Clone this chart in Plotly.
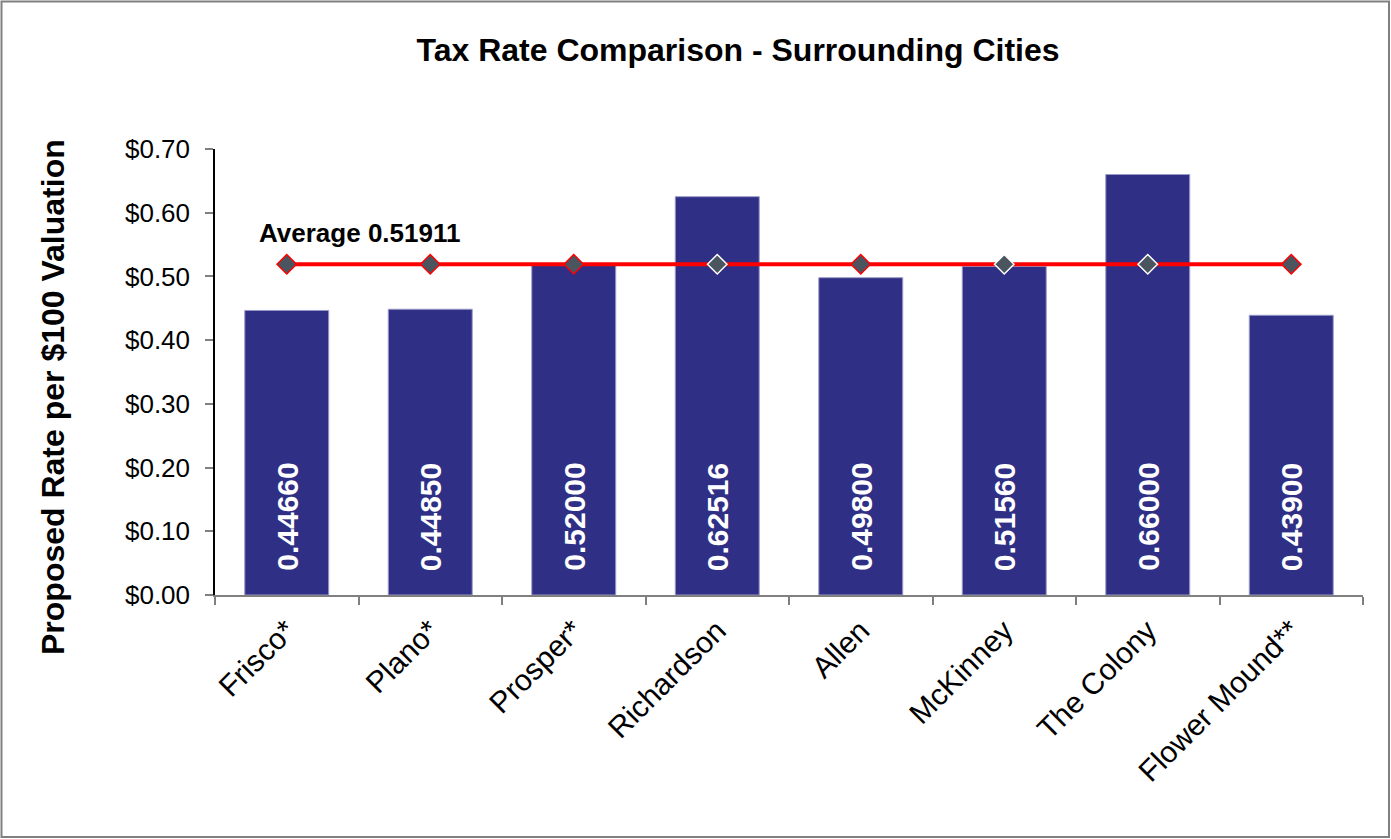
import plotly.graph_objects as go

cities = ["Frisco*", "Plano*", "Prosper*", "Richardson", "Allen", "McKinney", "The Colony", "Flower Mound**"]
rates = [0.44660, 0.44850, 0.52000, 0.62516, 0.49800, 0.51560, 0.66000, 0.43900]
average = 0.51911
avg_line = [average] * len(cities)
ytick_vals = [0.0, 0.1, 0.2, 0.3, 0.4, 0.5, 0.6, 0.7]
ytick_text = ["$0.00", "$0.10", "$0.20", "$0.30", "$0.40", "$0.50", "$0.60", "$0.70"]

marker_edge = ["#ff0000", "#ff0000", "#ff0000", "#ffffff", "#ff0000", "#ffffff", "#ffffff", "#ff0000"]

FONT = "Liberation Sans, Arial, sans-serif"
W, H = 1391, 839
ML, MR, MT, MB = 215, 28, 149, 244
pw = W - ML - MR
ph = H - MT - MB

fig = go.Figure()
fig.add_trace(go.Bar(
    x=cities, y=rates,
    marker=dict(color="#2f2f86", line=dict(color="#9a9ac8", width=1)),
    width=0.585,
    hoverinfo="skip",
))
fig.add_trace(go.Scatter(
    x=cities, y=avg_line, mode="lines+markers",
    line=dict(color="#ff0000", width=4),
    marker=dict(symbol="diamond", size=15, color="#4a5560",
                line=dict(color=marker_edge, width=1.5)),
    hoverinfo="skip",
))

for c, v in zip(cities, rates):
    fig.add_annotation(
        x=c, y=0, xref="x", yref="y", text=f"<b>{v:.5f}</b>",
        textangle=-90, showarrow=False, yanchor="bottom", xanchor="center",
        yshift=22, font=dict(family=FONT, size=30, color="white"),
    )

fig.add_annotation(
    x=cities[0], y=average, xref="x", yref="y", text="<b>Average 0.51911</b>",
    showarrow=False, xanchor="left", yanchor="bottom", xshift=-30, yshift=14,
    font=dict(family=FONT, size=26, color="black"),
)

# y-axis title placed as in the reference (centred lower than the plot area)
fig.add_annotation(
    x=(53 - ML) / pw, y=1 - (397 - MT) / ph, xref="paper", yref="paper",
    text="<b>Proposed Rate per $100 Valuation</b>", textangle=-90,
    showarrow=False, xanchor="center", yanchor="middle",
    font=dict(family=FONT, size=32, color="black"),
)

# outer chart border
fig.add_shape(
    type="rect", xref="paper", yref="paper",
    x0=(1.5 - ML) / pw, x1=(W - 2 - ML) / pw,
    y0=-(H - 2 - MT - ph) / ph, y1=(MT - 1.5) / ph + 1,
    line=dict(color="#808080", width=2), fillcolor="rgba(0,0,0,0)", layer="below",
)

fig.update_layout(
    width=W, height=H,
    margin=dict(l=ML, r=MR, t=MT, b=MB, autoexpand=False),
    paper_bgcolor="white", plot_bgcolor="white",
    showlegend=False,
    bargap=0.415,
    title=dict(text="<b>Tax Rate Comparison - Surrounding Cities</b>",
               x=738 / W, xanchor="center", y=1 - 50 / H, yanchor="middle",
               font=dict(family=FONT, size=32, color="black")),
    font=dict(family=FONT, color="black"),
)
fig.update_xaxes(
    type="category", showline=True, linecolor="#808080", linewidth=2,
    ticks="outside", tickson="boundaries", ticklen=8, tickcolor="#808080", tickwidth=1.5,
    tickangle=-45, tickfont=dict(family=FONT, size=30, color="black"),
    ticklabelstandoff=4,
    showgrid=False, zeroline=False,
)
fig.update_yaxes(
    range=[0, 0.7], tickvals=ytick_vals, ticktext=ytick_text,
    showline=True, linecolor="black", linewidth=1.5,
    ticks="outside", ticklen=8, tickcolor="#808080", tickwidth=1.5,
    tickfont=dict(family=FONT, size=26, color="black"), ticklabelstandoff=10,
    showgrid=False, zeroline=False,
)

fig.write_html("out.html", config={"displayModeBar": False},
               post_script="document.body.style.margin='0';document.body.style.overflow='hidden';")
